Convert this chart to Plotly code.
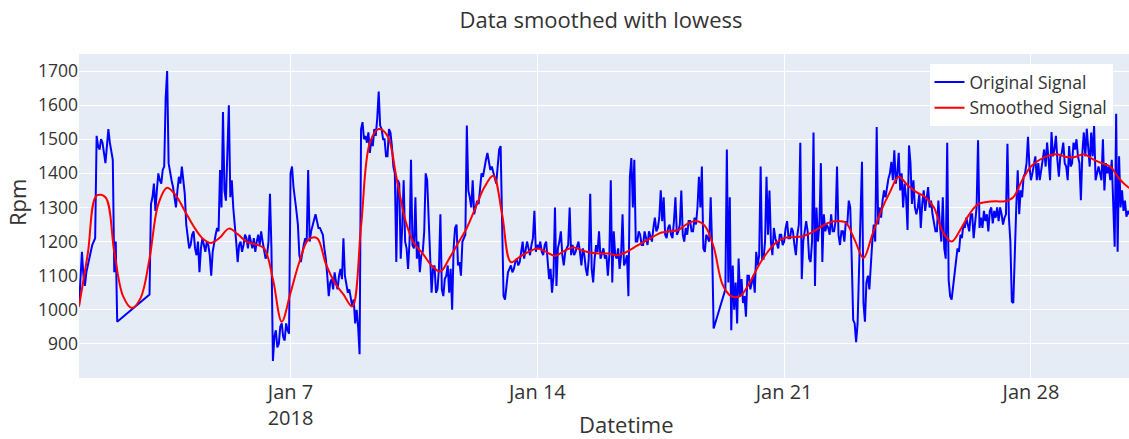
import pandas as pd
import plotly.graph_objects as go

# ---------------- data ----------------
# Original signal, hourly samples, in three contiguous segments (gaps are joined by straight lines)
orig_seg1_start = "2018-01-01 00:00"
orig_seg1 = [1010, 1090, 1170, 1100, 1070, 1110, 1130, 1150, 1160, 1190, 1200, 1210,
             1510, 1480, 1470, 1500, 1490, 1460, 1430, 1480, 1530, 1490, 1470, 1440,
             1110, 1200, 965]

orig_seg2_start = "2018-01-03 00:00"
orig_seg2 = [
    # Jan 3
    1045, 1310, 1330, 1370, 1290, 1350, 1400, 1380, 1370, 1410, 1420, 1620,
    1700, 1430, 1400, 1380, 1360, 1330, 1300, 1350, 1390, 1370, 1420, 1380,
    # Jan 4
    1340, 1250, 1210, 1180, 1190, 1220, 1230, 1180, 1160, 1200, 1110, 1180,
    1210, 1190, 1170, 1200, 1190, 1160, 1100, 1170, 1200, 1220, 1240, 1230,
    # Jan 5
    1410, 1300, 1580, 1350, 1320, 1450, 1600, 1330, 1380, 1300, 1260, 1200,
    1140, 1190, 1200, 1170, 1190, 1220, 1210, 1180, 1220, 1200, 1180, 1210,
    # Jan 6
    1170, 1200, 1220, 1190, 1230, 1200, 1180, 1150, 1160, 1200, 1340, 1180,
    850, 920, 940, 890, 900, 950, 960, 920, 910, 960, 940, 930,
    # Jan 7
    1400, 1420, 1360, 1330, 1290, 1250, 1160, 1140, 1170, 1190, 1210, 1200,
    1410, 1200, 1230, 1250, 1270, 1280, 1260, 1240, 1240, 1230, 1220, 1180,
    # Jan 8
    1150, 1100, 1040, 1080, 1090, 1060, 1110, 1080, 1060, 1100, 1120, 1090,
    1210, 1100, 1080, 1050, 1060, 1040, 1010, 1030, 960, 1000, 950, 870,
    # Jan 9
    1530, 1550, 1500, 1510, 1490, 1520, 1460, 1500, 1480, 1530, 1510, 1560,
    1640, 1540, 1530, 1500, 1500, 1450, 1450, 1530, 1520, 1480, 1420, 1400,
    # Jan 10
    1140, 1380, 1370, 1150, 1240, 1380, 1200, 1180, 1120, 1200, 1440, 1190,
    1180, 1330, 1150, 1200, 1110, 1160, 1170, 1230, 1400, 1380, 1260, 1200,
    # Jan 11
    1050, 1120, 1130, 1050, 1060, 1120, 1280, 1060, 1040, 1090, 1100, 1130,
    1050, 1120, 1000, 1180, 1240, 1250, 1130, 1140, 1100, 1200, 1210, 1220,
    # Jan 12
    1540, 1350, 1330, 1300, 1380, 1280, 1300, 1320, 1310, 1360, 1400, 1390,
    1420, 1440, 1460, 1430, 1410, 1420, 1400, 1380, 1370, 1420, 1470, 1480,
    # Jan 13
    1300, 1040, 1030, 1080, 1110, 1120, 1130, 1110, 1120, 1140, 1150, 1130,
    1140, 1170, 1200, 1150, 1170, 1200, 1180, 1160, 1190, 1210, 1290, 1170,
    # Jan 14
    1190, 1180, 1200, 1170, 1160, 1190, 1200, 1150, 1090, 1120, 1050, 1100,
    1300, 1070, 1180, 1200, 1230, 1160, 1130, 1170, 1180, 1190, 1300, 1160,
    # Jan 15
    1190, 1160, 1170, 1190, 1200, 1170, 1130, 1180, 1160, 1120, 1100, 1150,
    1340, 1120, 1080, 1150, 1190, 1170, 1230, 1150, 1170, 1180, 1150, 1160,
    # Jan 16
    1100, 1160, 1380, 1080, 1230, 1160, 1150, 1180, 1120, 1160, 1280, 1130,
    1140, 1160, 1040, 1390, 1445, 1300, 1440, 1200, 1200, 1230, 1220, 1190,
    # Jan 17
    1190, 1230, 1210, 1190, 1230, 1210, 1200, 1240, 1270, 1230, 1240, 1270,
    1350, 1260, 1330, 1220, 1210, 1240, 1250, 1220, 1210, 1260, 1330, 1220,
    # Jan 18
    1230, 1250, 1350, 1220, 1200, 1240, 1220, 1260, 1260, 1230, 1230, 1270,
    1250, 1300, 1390, 1300, 1420, 1180, 1170, 1220, 1210, 1200, 1330, 1180,
    # Jan 19 00:00
    945,
]

orig_seg3_start = "2018-01-19 08:00"
orig_seg3 = [
    # Jan 19 08:00-23:00
    1060, 1470, 1080, 1330, 940, 1130, 1000, 1080, 960, 1150, 1040, 1090,
    1020, 1040, 980, 1100,
    # Jan 20
    1100, 1060, 1080, 1100, 1050, 1170, 1130, 1160, 1420, 1150, 1150, 1200,
    1390, 1220, 1350, 1200, 1160, 1240, 1210, 1190, 1180, 1220, 1220, 1190,
    # Jan 21
    1200, 1240, 1260, 1210, 1210, 1240, 1230, 1190, 1160, 1220, 1250, 1490,
    1090, 1200, 1240, 1260, 1230, 1150, 1140, 1200, 1520, 1070, 1300, 1200,
    # Jan 22
    1250, 1430, 1140, 1280, 1230, 1250, 1240, 1220, 1280, 1230, 1230, 1260,
    1420, 1220, 1190, 1230, 1230, 1200, 1260, 1250, 1320, 1300, 1150, 970,
    # Jan 23
    960, 905, 960, 1130, 1300, 1434, 1020, 965, 1080, 1100, 1060, 1150,
    1200, 1250, 1200, 1536, 1250, 1300, 1270, 1320, 1350, 1330, 1360, 1385,
    # Jan 24
    1400, 1434, 1380, 1468, 1370, 1400, 1460, 1350, 1400, 1300, 1370, 1330,
    1234, 1482, 1430, 1310, 1380, 1300, 1280, 1300, 1340, 1240, 1310, 1350,
    # Jan 25
    1290, 1330, 1360, 1300, 1320, 1280, 1250, 1230, 1230, 1320, 1250, 1200,
    1330, 1180, 1150, 1490, 1087, 1040, 1030, 1067, 1100, 1130, 1180, 1170,
    # Jan 26
    1220, 1210, 1250, 1240, 1270, 1250, 1230, 1280, 1280, 1210, 1260, 1300,
    1497, 1240, 1270, 1240, 1290, 1260, 1280, 1230, 1290, 1300, 1253, 1290,
    # Jan 27
    1270, 1300, 1260, 1300, 1280, 1250, 1270, 1280, 1487, 1270, 1200, 1024,
    1020, 1200, 1300, 1409, 1280, 1350, 1330, 1390, 1400, 1430, 1507, 1420,
    # Jan 28
    1380, 1400, 1430, 1450, 1380, 1430, 1380, 1410, 1440, 1470, 1420, 1490,
    1440, 1380, 1521, 1450, 1470, 1510, 1440, 1390, 1450, 1460, 1490, 1430,
    # Jan 29
    1420, 1380, 1480, 1420, 1430, 1490, 1470, 1500, 1450, 1430, 1321, 1460,
    1520, 1450, 1531, 1470, 1420, 1520, 1450, 1540, 1380, 1400, 1420, 1400,
    # Jan 30
    1380, 1500, 1350, 1430, 1400, 1420, 1380, 1440, 1300, 1185, 1575, 1170,
    1450, 1300, 1350, 1290, 1320, 1273, 1290, 1280, 1300, 1290, 1300, 1280,
]

# Lowess-smoothed signal, every 6 hours from Jan 1 00:00
smooth_start = "2018-01-01 00:00"
smooth_rpm = [
    1010, 1165, 1335, 1330, 1170, 1040, 1005, 1035, 1150, 1310, 1358, 1335,
    1290, 1245, 1210, 1196, 1212, 1238, 1222, 1200, 1192, 1180, 1090, 965,
    1050, 1140, 1205, 1210, 1135, 1080, 1045, 1010, 1245, 1490, 1530, 1510,
    1390, 1265, 1195, 1165, 1130, 1112, 1150, 1195, 1240, 1300, 1360, 1393,
    1280, 1140, 1155, 1170, 1180, 1170, 1158, 1172, 1183, 1175, 1168, 1165,
    1165, 1160, 1168, 1183, 1198, 1212, 1226, 1230, 1234, 1252, 1260, 1246,
    1185, 1075, 1040, 1040, 1075, 1125, 1165, 1195, 1210, 1213, 1215, 1225,
    1240, 1255, 1260, 1255, 1205, 1152, 1220, 1290, 1345, 1390, 1365, 1345,
    1331, 1300, 1228, 1200, 1235, 1280, 1310, 1316, 1318, 1318, 1330, 1380,
    1420, 1440, 1452, 1456, 1448, 1448, 1456, 1442, 1430, 1420, 1385, 1360,
    1345,
]

x_range = ["2018-01-01 00:00", "2018-01-30 18:45"]
y_range = [800, 1750]
y_ticks = [900, 1000, 1100, 1200, 1300, 1400, 1500, 1600, 1700]

# ---------------- build series ----------------
def times(start, n, freq):
    return list(pd.date_range(start, periods=n, freq=freq))

orig_t = (times(orig_seg1_start, len(orig_seg1), "1h")
          + times(orig_seg2_start, len(orig_seg2), "1h")
          + times(orig_seg3_start, len(orig_seg3), "1h"))
orig_v = orig_seg1 + orig_seg2 + orig_seg3
smooth_t = times(smooth_start, len(smooth_rpm), "6h")

FONT = "Open Sans, Verdana, Arial, sans-serif"
TXT = "#333333"

fig = go.Figure()
fig.add_trace(go.Scatter(x=orig_t, y=orig_v, mode="lines", name="Original Signal",
                         line=dict(color="blue", width=2)))
fig.add_trace(go.Scatter(x=smooth_t, y=smooth_rpm, mode="lines", name="Smoothed Signal",
                         line=dict(color="red", width=2, shape="spline")))

fig.update_layout(
    template="plotly",
    width=1129, height=439,
    margin=dict(l=79, r=0, t=54, b=61),
    font=dict(family=FONT, color=TXT),
    title=dict(text="Data smoothed with lowess", x=601 / 1129, xref="container",
               xanchor="center", y=1 - 20 / 439, yanchor="middle",
               font=dict(size=22, color=TXT)),
    plot_bgcolor="#E5ECF6",
    paper_bgcolor="white",
    legend=dict(x=0.81, y=0.969, xanchor="left", yanchor="top",
                bgcolor="white", font=dict(size=17.5, color=TXT),
                tracegroupgap=0),
    showlegend=True,
)
fig.update_xaxes(range=x_range, tick0="2018-01-07", dtick=7 * 24 * 3600 * 1000,
                 tickfont=dict(size=20, color=TXT), gridcolor="white",
                 showline=False, zeroline=False)
fig.update_yaxes(range=y_range, tickvals=y_ticks,
                 tickfont=dict(size=17.5, color=TXT), gridcolor="white", zeroline=False)
fig.add_annotation(text="Rpm", xref="paper", yref="paper",
                   x=-(79 - 17) / 1050, y=(378 - 203) / 324, textangle=-90,
                   xanchor="center", yanchor="middle", showarrow=False,
                   font=dict(size=22, color=TXT))
fig.add_annotation(text="Datetime", xref="paper", yref="paper",
                   x=(626 - 79) / 1050, y=-(424 - 378) / 324,
                   xanchor="center", yanchor="middle", showarrow=False,
                   font=dict(size=22, color=TXT))

fig.write_html("out.html")
